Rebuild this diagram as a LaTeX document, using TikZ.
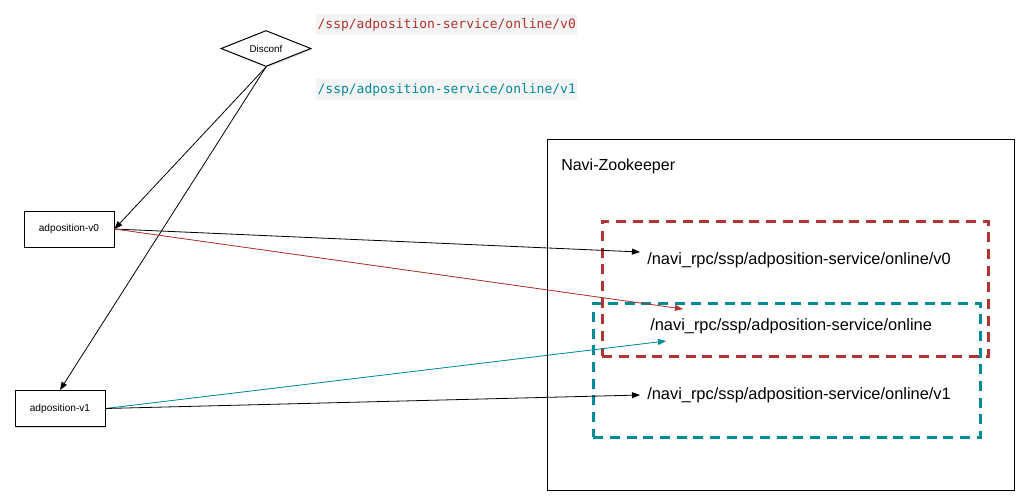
\documentclass[tikz,border=0pt]{standalone}
\usepackage{fontspec}
\setmainfont{Liberation Sans}
\setmonofont{DejaVu Sans Mono}
\usetikzlibrary{shapes.geometric,arrows.meta,shadows,calc}
\definecolor{v0red}{RGB}{176,52,48}
\definecolor{v1teal}{RGB}{0,139,152}
\definecolor{codebg}{RGB}{244,244,244}

\begin{document}
\begin{tikzpicture}[x=0.75pt,y=0.75pt,yscale=-1,xscale=1,
  svcbox/.style={draw, fill=white, line width=0.75pt, minimum width=67.5pt, minimum height=27pt, inner sep=0.75pt, font=\fontsize{7.6}{9}\selectfont, drop shadow={shadow xshift=0.9pt, shadow yshift=-0.9pt, opacity=0.3}},
  codetext/.style={fill=codebg, anchor=west, inner xsep=1pt, minimum height=15.75pt, font=\ttfamily\fontsize{9.75}{11}\selectfont},
  pathtext/.style={anchor=west, inner xsep=5.25pt, inner ysep=0.75pt, font=\fontsize{12.3}{14}\selectfont},
  dashbox/.style={draw, anchor=north west, line width=2.2pt, dash pattern=on 7.5pt off 5pt, inner sep=0pt},
  link/.style={-{Triangle[length=6pt,width=4.5pt]}, line width=0.6pt}
]
\useasboundingbox (0,0) rectangle (1025,501);

%Shape: Diamond
\node (disconf) [diamond, aspect=2.5, draw, fill=white, line width=0.75pt, minimum width=67.5pt, minimum height=27pt, inner sep=0pt, font=\fontsize{7.4}{9}\selectfont, drop shadow={shadow xshift=0.9pt, shadow yshift=-0.9pt, opacity=0.3}] at (266,48.5) {Disconf};
%Shape: Rectangle
\node (v0) [svcbox] at (69,229) {adposition-v0};
%Shape: Rectangle
\node (v1) [svcbox] at (60,408.5) {adposition-v1};

% Text Node
\node (cfgv0) [codetext, text=v0red] at (316,24.5) {/ssp/adposition-service/online/v0};
% Text Node
\node (cfgv1) [codetext, text=v1teal] at (316,89.5) {/ssp/adposition-service/online/v1};

%Shape: Rectangle
\node (zk) [draw, line width=1pt, anchor=north west, minimum width=350.25pt, minimum height=263.25pt, inner sep=0pt] at (547,139) {};
% Text Node
\node (zklabel) [anchor=west, inner sep=0.75pt, font=\fontsize{12}{14}\selectfont] at (560,166) {Navi-Zookeeper};

%Shape: Rectangle
\node (grpv0) [dashbox, draw=v0red, minimum width=289.5pt, minimum height=101.25pt] at (601,220) {};
%Shape: Rectangle
\node (grpv1) [dashbox, draw=v1teal, minimum width=290.25pt, minimum height=100.5pt] at (592,302) {};

% Text Node
\node (pv0) [pathtext] at (640,260) {/navi\_rpc/ssp/adposition-service/online/v0};
% Text Node
\node (pon) [pathtext] at (643,326) {/navi\_rpc/ssp/adposition-service/online};
% Text Node
\node (pv1) [pathtext] at (640,395) {/navi\_rpc/ssp/adposition-service/online/v1};

%Straight Lines
\draw [link] (disconf.south) -- (v0.east);
\draw [link] (disconf.south) -- (v1.north);
%Straight Lines
\draw [link] (v0.east) -- ($(pv0.west)+(0,-8)$);
\draw [link, draw=v0red, fill=v0red] (v0.east) -- ($(pon.west)+(40,-17)$);
%Straight Lines
\draw [link, draw=v1teal, fill=v1teal] (v1.east) -- ($(pon.west)+(23,15)$);
\draw [link] (v1.east) -- (pv1.west);
\end{tikzpicture}
\end{document}
